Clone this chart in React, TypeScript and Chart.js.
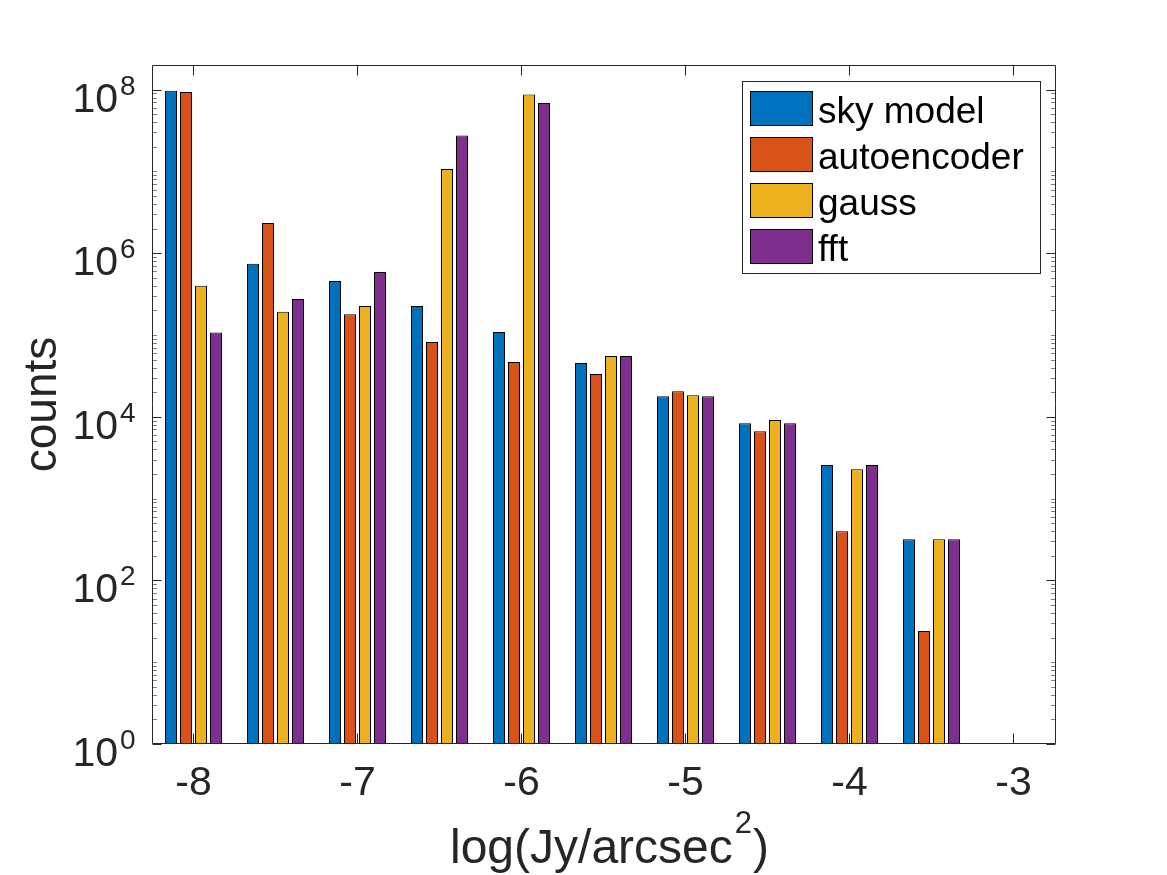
import React, { useEffect, useRef } from 'react';
import { Chart, registerables } from 'chart.js';

Chart.register(...registerables);

// ---- data ----
const binCenters = [-8, -7.5, -7, -6.5, -6, -5.5, -5, -4.5, -4, -3.5];
const skyModel = [9.67e7, 7.44e5, 4.57e5, 2.26e5, 1.09e5, 4.54e4, 1.79e4, 8.37e3, 2.57e3, 319];
const autoencoder = [9.38e7, 2.34e6, 1.8e5, 8.2e4, 4.67e4, 3.33e4, 2.06e4, 6.68e3, 400, 24];
const gauss = [4.0e5, 1.92e5, 2.26e5, 1.07e7, 8.69e7, 5.53e4, 1.84e4, 9.12e3, 2.29e3, 319];
const fft = [1.07e5, 2.75e5, 5.89e5, 2.74e7, 6.87e7, 5.53e4, 1.79e4, 8.37e3, 2.57e3, 319];

const seriesNames = ['sky model', 'autoencoder', 'gauss', 'fft'];
const seriesColors = ['#0072BD', '#D95319', '#EDB120', '#7E2F8E'];
const seriesValues = [skyModel, autoencoder, gauss, fft];

const xTickValues = [-8, -7, -6, -5, -4, -3];
const xTickLabels = ['-8', '-7', '-6', '-5', '-4', '-3'];
const yMajorExponents = [0, 2, 4, 6, 8];
const yTickBase = '10';
const xMin = -8.25;
const xMax = -2.75;
const yMin = 1;
const yMax = 2e8;
const xTitleMain = 'log(Jy/arcsec';
const xTitleSup = '2';
const xTitleEnd = ')';
const yTitle = 'counts';

const FONT = '"Liberation Sans", Arial, Helvetica, sans-serif';
const AXIS_COLOR = '#262626';

const matlabAxes = {
  id: 'matlabAxes',
  beforeDraw(chart: any) {
    const ctx = chart.ctx;
    ctx.save();
    ctx.fillStyle = '#ffffff';
    ctx.fillRect(0, 0, chart.width, chart.height);
    ctx.restore();
  },
  afterDatasetsDraw(chart: any) {
    const ctx: CanvasRenderingContext2D = chart.ctx;
    const a = chart.chartArea;
    const xs = chart.scales.x;
    const ys = chart.scales.y;
    const L = Math.floor(a.left) + 0.5;
    const R = Math.floor(a.right) + 1.5;
    const T = Math.round(a.top) + 0.5;
    const B = Math.round(a.bottom) - 0.5;
    ctx.save();
    ctx.lineWidth = 1;

    // minor y ticks
    ctx.strokeStyle = '#808080';
    ctx.beginPath();
    for (let e = 0; e <= 8; e++) {
      for (let k = 1; k <= 9; k++) {
        const v = k * Math.pow(10, e);
        if (v > yMax) continue;
        const major = k === 1 && yMajorExponents.includes(e);
        if (major) continue;
        const py = Math.round(ys.getPixelForValue(v)) + 0.5;
        ctx.moveTo(L, py);
        ctx.lineTo(L + 4.5, py);
        ctx.moveTo(R, py);
        ctx.lineTo(R - 4.5, py);
      }
    }
    ctx.stroke();

    ctx.strokeStyle = AXIS_COLOR;
    ctx.beginPath();
    ctx.rect(L, T, R - L, B - T);
    yMajorExponents.forEach((e) => {
      const py = Math.round(ys.getPixelForValue(Math.pow(10, e))) + 0.5;
      ctx.moveTo(L, py);
      ctx.lineTo(L + 9, py);
      ctx.moveTo(R, py);
      ctx.lineTo(R - 9, py);
    });
    xTickValues.forEach((v) => {
      const px = Math.floor(xs.getPixelForValue(v)) + 0.5;
      ctx.moveTo(px, B);
      ctx.lineTo(px, B - 10);
      ctx.moveTo(px, T);
      ctx.lineTo(px, T + 10);
    });
    ctx.stroke();

    // x tick labels
    ctx.fillStyle = AXIS_COLOR;
    ctx.font = `41px ${FONT}`;
    ctx.textAlign = 'center';
    ctx.textBaseline = 'alphabetic';
    xTickValues.forEach((v, i) => {
      const px = xs.getPixelForValue(v);
      ctx.fillText(xTickLabels[i], px, a.bottom + 51);
    });

    // y tick labels 10^e
    yMajorExponents.forEach((e) => {
      const py = ys.getPixelForValue(Math.pow(10, e));
      ctx.font = `41px ${FONT}`;
      ctx.textAlign = 'right';
      ctx.fillText(yTickBase, 118, py + 22);
      ctx.font = `28px ${FONT}`;
      ctx.textAlign = 'left';
      ctx.fillText(String(e), 120, py + 5);
    });

    // x title
    ctx.textAlign = 'left';
    ctx.font = `48px ${FONT}`;
    const x0 = 450;
    const base = 863;
    ctx.fillText(xTitleMain, x0, base);
    const w1 = ctx.measureText(xTitleMain).width;
    ctx.font = `31px ${FONT}`;
    ctx.fillText(xTitleSup, x0 + w1 + 2, base - 30);
    const w2 = ctx.measureText(xTitleSup).width;
    ctx.font = `48px ${FONT}`;
    ctx.fillText(xTitleEnd, x0 + w1 + w2 + 3, base);

    // y title
    ctx.save();
    ctx.translate(56, (a.top + a.bottom) / 2);
    ctx.rotate(-Math.PI / 2);
    ctx.textAlign = 'center';
    ctx.font = `46px ${FONT}`;
    ctx.fillText(yTitle, 0, 0);
    ctx.restore();

    // legend
    ctx.fillStyle = '#ffffff';
    ctx.fillRect(742.5, 81.5, 298, 192);
    ctx.strokeStyle = AXIS_COLOR;
    ctx.strokeRect(742.5, 81.5, 298, 192);
    seriesNames.forEach((name, i) => {
      const top = 91 + i * 46;
      ctx.fillStyle = seriesColors[i];
      ctx.fillRect(750.5, top + 0.5, 62, 34);
      ctx.strokeStyle = '#000000';
      ctx.strokeRect(750.5, top + 0.5, 62, 34);
      ctx.fillStyle = '#000000';
      ctx.font = `37px ${FONT}`;
      ctx.textAlign = 'left';
      ctx.fillText(name, 818, top + 32);
    });

    ctx.restore();
  },
};

export default function App() {
  const canvasRef = useRef<HTMLCanvasElement | null>(null);

  useEffect(() => {
    document.body.style.margin = '0';
    const canvas = canvasRef.current;
    if (!canvas) return;
    const chart = new Chart(canvas, {
      type: 'bar',
      data: {
        datasets: seriesValues.map((vals, si) => ({
          label: seriesNames[si],
          data: binCenters.map((x, i) => ({ x, y: vals[i] })),
          backgroundColor: seriesColors[si],
          borderColor: '#000000',
          borderWidth: 1,
          borderSkipped: false,
          categoryPercentage: 60 / 82,
          barPercentage: 0.8,
        })),
      },
      options: {
        animation: false,
        responsive: false,
        devicePixelRatio: 1,
        layout: { padding: { left: 152.5, top: 65, right: 112.5, bottom: 131 } },
        plugins: { legend: { display: false }, tooltip: { enabled: false } },
        scales: {
          x: {
            type: 'linear',
            min: xMin,
            max: xMax,
            offset: false,
            display: false,
            grid: { offset: false },
            afterBuildTicks: (s: any) => {
              s.ticks = xTickValues.map((v) => ({ value: v }));
            },
          },
          y: {
            type: 'logarithmic',
            min: yMin,
            max: yMax,
            display: false,
          },
        },
      },
      plugins: [matlabAxes],
    } as any);
    return () => chart.destroy();
  }, []);

  return (
    <div style={{ position: 'absolute', left: 0, top: 0, width: 1167, height: 875 }}>
      <canvas ref={canvasRef} width={1167} height={875} />
    </div>
  );
}
